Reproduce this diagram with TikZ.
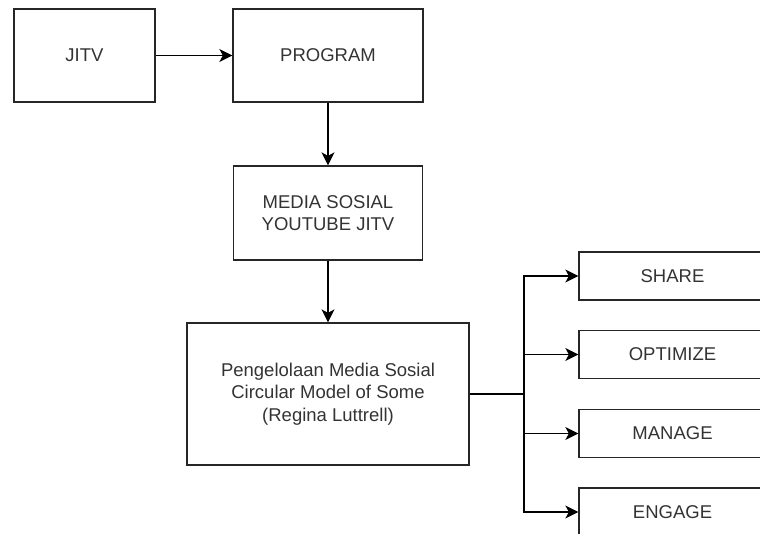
\documentclass[tikz,border=0pt]{standalone}
\usepackage{fontspec}
\setmainfont{Liberation Sans}
\usetikzlibrary{arrows.meta}

\begin{document}
\begin{tikzpicture}[x=1pt,y=-1pt,
    box/.style={draw=black!85,line width=1.3pt,inner sep=0pt,align=center,
        text=black!80,font=\fontsize{18.5}{22.5}\selectfont},
    arrow/.style={line width=1.3pt,-{Stealth[length=13pt,width=13pt,inset=3.5pt]}}]
    % picture frame
    \clip (0,0) rectangle (760,533);

    % main column
    \node[box,minimum width=141pt,minimum height=93pt] (jitv) at (84.5,55.5) {JITV};
    \node[box,minimum width=190pt,minimum height=93pt] (program) at (328,55.5) {PROGRAM};
    \node[box,minimum width=189pt,minimum height=94pt] (medsos) at (328,213) {MEDIA SOSIAL\\YOUTUBE JITV};
    \node[box,minimum width=282pt,minimum height=142pt] (kelola) at (328,394)
        {Pengelolaan Media Sosial\\Circular Model of Some\\(Regina Luttrell)};

    % right column
    \node[box,minimum width=187pt,minimum height=48pt] (share) at (672.5,276) {SHARE};
    \node[box,minimum width=187pt,minimum height=48pt] (optimize) at (672.5,354.5) {OPTIMIZE};
    \node[box,minimum width=187pt,minimum height=48pt] (manage) at (672.5,433.5) {MANAGE};
    \node[box,minimum width=187pt,minimum height=48pt] (engage) at (672.5,512) {ENGAGE};

    % connectors
    \draw[arrow] (jitv) -- (program);
    \draw[arrow] (program) -- (medsos);
    \draw[arrow] (medsos) -- (kelola);

    \coordinate (branch) at (524,394);
    \draw[line width=1.3pt] (kelola.east) -- (branch);
    \foreach \t in {share,optimize,manage,engage}
        \draw[arrow] (branch) |- (\t.west);
\end{tikzpicture}
\end{document}
